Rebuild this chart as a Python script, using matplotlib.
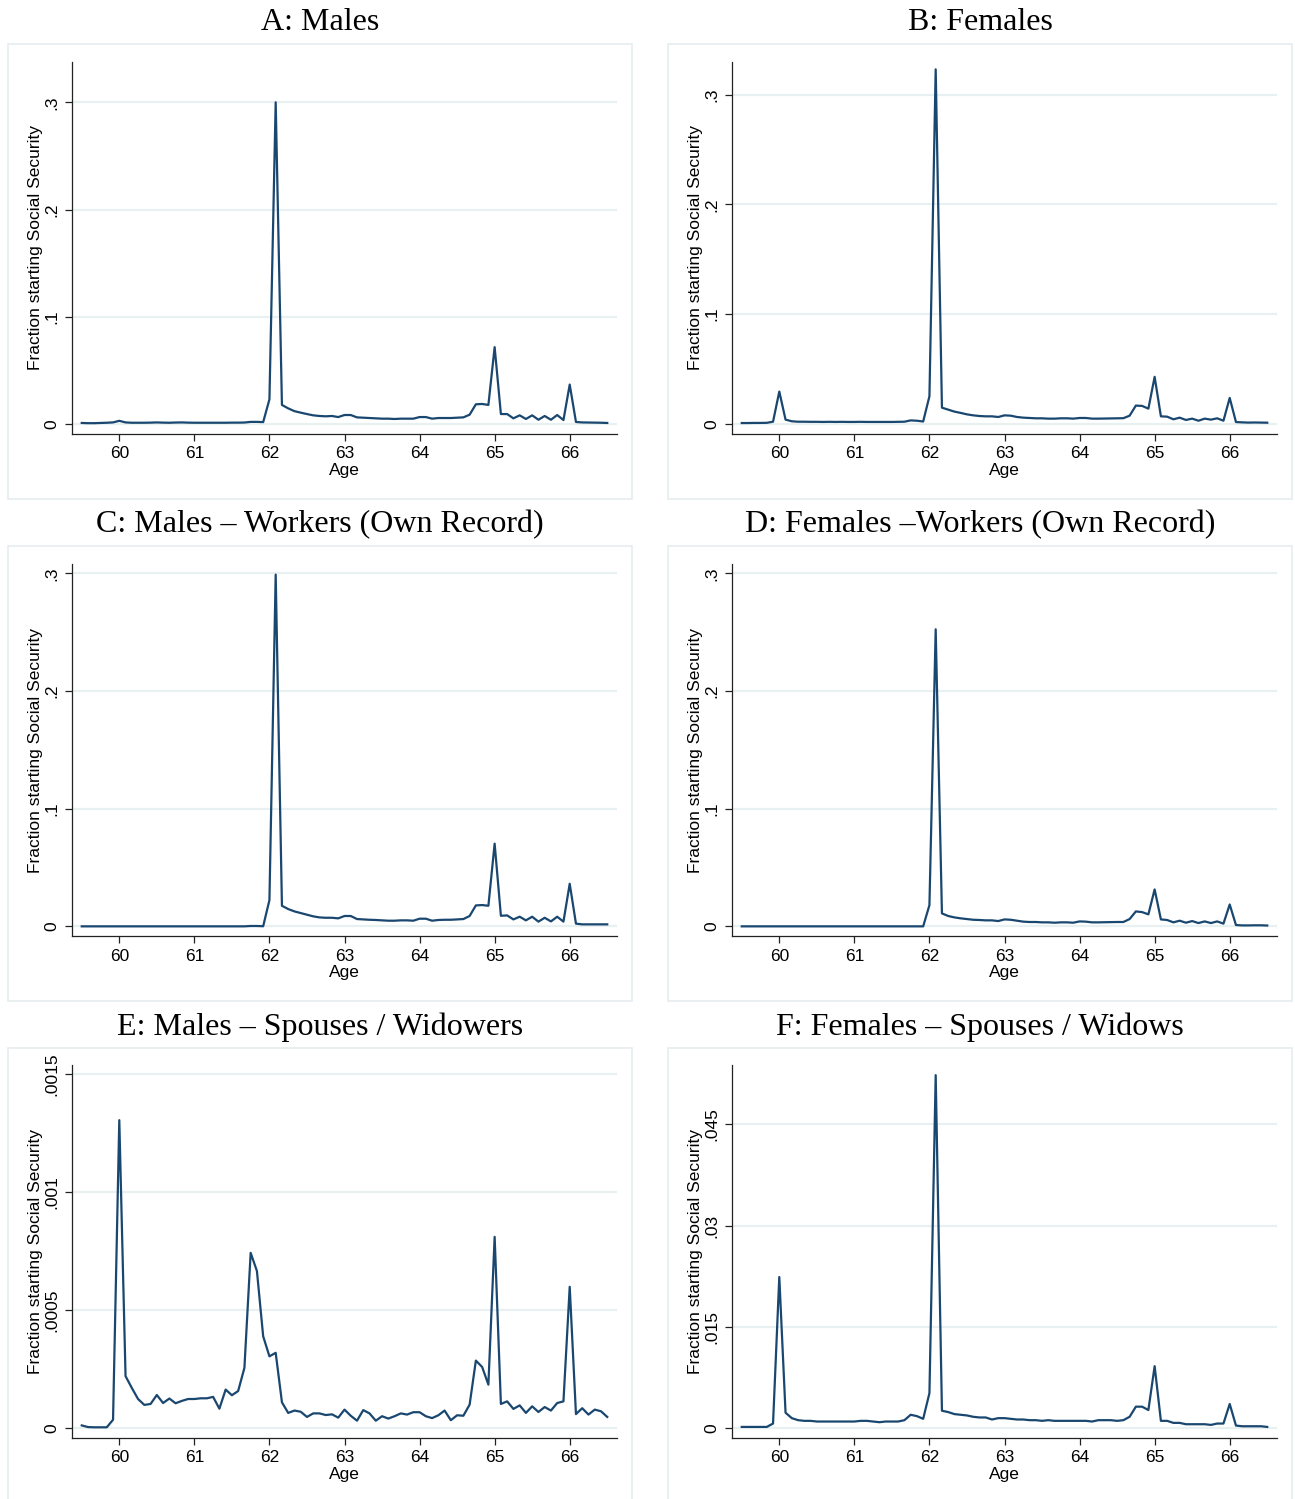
import numpy as np
import matplotlib
matplotlib.use("Agg")
import matplotlib.pyplot as plt
from matplotlib.patches import Rectangle

# age in months, 59y6m .. 66y6m
age_months = np.arange(59 * 12 + 6, 66 * 12 + 7)
ages = age_months / 12.0

males = [0.001, 0.0008, 0.0008, 0.001, 0.0012, 0.0015, 0.003,
         0.0015, 0.0012, 0.0012, 0.0012, 0.0013, 0.0015, 0.0013, 0.0012, 0.0014, 0.0015, 0.0013, 0.0012,
         0.0012, 0.0012, 0.0012, 0.0012, 0.0012, 0.0013, 0.0013, 0.0014, 0.002, 0.002, 0.0018,
         0.023, 0.30, 0.0178, 0.0146, 0.012, 0.0106, 0.0093, 0.0081, 0.0075, 0.0072, 0.0075, 0.0065,
         0.0084, 0.0084, 0.0062, 0.0059, 0.0056, 0.0053, 0.005, 0.005, 0.0047, 0.005, 0.005, 0.005,
         0.0065, 0.0065, 0.005, 0.0056, 0.0056, 0.0056, 0.0059, 0.0062, 0.0087, 0.0184, 0.0187, 0.0178,
         0.0717, 0.0093, 0.0093, 0.0053, 0.0081, 0.0047, 0.0081, 0.004, 0.0075, 0.004, 0.0084, 0.0037,
         0.0368, 0.0019, 0.0015, 0.0014, 0.0013, 0.0012, 0.001]

females = [0.0006, 0.0006, 0.0007, 0.0007, 0.0008, 0.0018, 0.0293,
           0.0037, 0.0022, 0.0018, 0.0018, 0.0017, 0.0017, 0.0016, 0.0017, 0.0016, 0.0017, 0.0016, 0.0016,
           0.0017, 0.0016, 0.0016, 0.0016, 0.0016, 0.0016, 0.0017, 0.0018, 0.003, 0.0027, 0.002,
           0.025, 0.323, 0.0146, 0.0128, 0.011, 0.0098, 0.0085, 0.0076, 0.007, 0.0067, 0.0067, 0.0061,
           0.0076, 0.0073, 0.0061, 0.0055, 0.0052, 0.0049, 0.0049, 0.0046, 0.0046, 0.0049, 0.0049, 0.0046,
           0.0052, 0.0052, 0.0046, 0.0046, 0.0047, 0.0048, 0.0049, 0.005, 0.0073, 0.0165, 0.0162, 0.0137,
           0.0427, 0.0067, 0.0064, 0.004, 0.0055, 0.0034, 0.0046, 0.0027, 0.0046, 0.0037, 0.0049, 0.0027,
           0.0235, 0.0015, 0.0012, 0.001, 0.0011, 0.001, 0.0009]

males_workers = [0.0] * 27 + [0.0003, 0.0003, 0.0001,
                 0.0223, 0.299, 0.0175, 0.0147, 0.0127, 0.0113, 0.0099, 0.0085, 0.0076, 0.0073, 0.0073, 0.0068,
                 0.0088, 0.0088, 0.0062, 0.0059, 0.0056, 0.0054, 0.0051, 0.0048, 0.0048, 0.0051, 0.0051, 0.0048,
                 0.0065, 0.0065, 0.0048, 0.0054, 0.0056, 0.0056, 0.0059, 0.0062, 0.0088, 0.0178, 0.0181, 0.0175,
                 0.0703, 0.009, 0.0093, 0.0059, 0.0082, 0.0051, 0.0082, 0.004, 0.0073, 0.0042, 0.0082, 0.004,
                 0.0362, 0.0023, 0.0017, 0.0017, 0.0017, 0.0017, 0.0017]

females_workers = [0.0] * 30 + [
                   0.018, 0.2525, 0.011, 0.0088, 0.0076, 0.0068, 0.0062, 0.0056, 0.0054, 0.0051, 0.0051, 0.0045,
                   0.0059, 0.0056, 0.0048, 0.004, 0.0037, 0.0037, 0.0034, 0.0034, 0.0031, 0.0034, 0.0034, 0.0031,
                   0.0042, 0.004, 0.0034, 0.0034, 0.0035, 0.0036, 0.0037, 0.0037, 0.0062, 0.0127, 0.0121, 0.0102,
                   0.0314, 0.0059, 0.0054, 0.0034, 0.0048, 0.0031, 0.0045, 0.0028, 0.0042, 0.0028, 0.0042, 0.0023,
                   0.0186, 0.0011, 0.0008, 0.0008, 0.0009, 0.0009, 0.0007]

males_spouses = [0.000011, 0.000004, 0.000003, 0.000003, 0.000003, 0.000035, 0.001306,
                 0.00022, 0.00017, 0.000123, 0.000098, 0.000102, 0.00014, 0.000106, 0.000125, 0.000105,
                 0.000115, 0.000123, 0.000123, 0.000126, 0.000126, 0.000132, 0.000082, 0.000163, 0.000139,
                 0.000157, 0.000255, 0.000743, 0.000666, 0.000389, 0.000304, 0.000319,
                 0.000109, 0.000064, 0.000074, 0.000069, 0.000047, 0.000062, 0.000062, 0.000055, 0.000058, 0.000044,
                 0.000078, 0.000052, 0.000031, 0.000076, 0.000062, 0.000031, 0.00005, 0.00004, 0.00005, 0.000062,
                 0.000057, 0.000067, 0.000067, 0.00005, 0.000042, 0.000054, 0.000074, 0.000033, 0.000054, 0.000052,
                 0.000099, 0.000286, 0.000259, 0.000184, 0.000811,
                 0.000102, 0.000113, 0.000081, 0.000096, 0.000064, 0.000092, 0.000068, 0.000089, 0.000074,
                 0.000106, 0.000113, 0.000599,
                 0.000059, 0.000084, 0.000057, 0.000078, 0.000071, 0.000047]

females_spouses = [0.0002, 0.0002, 0.0002, 0.0002, 0.0002, 0.0007, 0.0224,
                   0.0023, 0.0015, 0.0012, 0.0011, 0.0011, 0.001, 0.001, 0.001, 0.001, 0.001, 0.001, 0.001,
                   0.0011, 0.0011, 0.001, 0.0009, 0.001, 0.001, 0.001, 0.0012, 0.002, 0.0018, 0.0014,
                   0.0052, 0.0523, 0.0026, 0.0024, 0.0021, 0.002, 0.0019, 0.0017, 0.0016, 0.0016, 0.0013, 0.0015,
                   0.0015, 0.0014, 0.0013, 0.0013, 0.0012, 0.0012, 0.0011, 0.0012, 0.0011, 0.0011, 0.0011, 0.0011,
                   0.0011, 0.0011, 0.001, 0.0012, 0.0012, 0.0012, 0.0011, 0.0012, 0.0017, 0.0032, 0.0032, 0.0027,
                   0.0092, 0.0011, 0.0011, 0.0008, 0.0008, 0.0006, 0.0006, 0.0006, 0.0006, 0.0005, 0.0007, 0.0007,
                   0.0036, 0.0004, 0.0003, 0.0003, 0.0003, 0.0003, 0.0002]

titles = ["A: Males", "B: Females",
          "C: Males \u2013 Workers (Own Record)", "D: Females \u2013Workers (Own Record)",
          "E: Males \u2013 Spouses / Widowers", "F: Females \u2013 Spouses / Widows"]
series = [males, females, males_workers, females_workers, males_spouses, females_spouses]

ytick_vals = [[0, 0.1, 0.2, 0.3]] * 4 + [[0, 0.0005, 0.001, 0.0015], [0, 0.015, 0.03, 0.045]]
ytick_labels = [["0", ".1", ".2", ".3"]] * 4 + [["0", ".0005", ".001", ".0015"], ["0", ".015", ".03", ".045"]]
xticks = [60, 61, 62, 63, 64, 65, 66]

W, H = 1295, 1499
# axes boxes in pixels: left, top, right, bottom
boxes = [(72, 62, 617, 434), (732, 62, 1277, 434),
         (72, 564, 617, 936), (732, 564, 1277, 936),
         (72, 1065, 617, 1438), (732, 1065, 1277, 1438)]
ylims = [(-0.0093, 0.3376), (-0.0094, 0.3297), (-0.0082, 0.308), (-0.0082, 0.308),
         (-0.0000424, 0.00154), (-0.00144, 0.0538)]
panel_boxes = [(8, 44, 632, 499), (668, 44, 1292, 499),
               (8, 546, 632, 1001), (668, 546, 1292, 1001),
               (8, 1048, 632, 1510), (668, 1048, 1292, 1510)]
title_y = [23, 23, 525, 525, 1027, 1027]

line_color = "#1a476f"
grid_color = "#e8f0f2"
axis_color = "#222222"
fs = 12.5

fig = plt.figure(figsize=(W / 100, H / 100), dpi=100)
fig.patch.set_facecolor("white")

for i in range(6):
    px0, py0, px1, py1 = panel_boxes[i]
    fig.add_artist(Rectangle((px0 / W, 1 - py1 / H), (px1 - px0) / W, (py1 - py0) / H,
                             transform=fig.transFigure, fill=False, ec="#e6eef0", lw=1.2))
    fig.text((px0 + px1) / 2 / W, 1 - title_y[i] / H, titles[i], ha="center", va="center",
             fontsize=23, family="Liberation Serif")

    l, t, r, b = boxes[i]
    ax = fig.add_axes([l / W, 1 - b / H, (r - l) / W, (b - t) / H])
    for yv in ytick_vals[i]:
        ax.axhline(yv, color=grid_color, lw=1.6, zorder=0)
    ax.plot(ages, series[i], color=line_color, lw=1.6, zorder=3)
    ax.set_xlim(59.37, 66.63)
    ax.set_ylim(*ylims[i])
    ax.set_xticks(xticks)
    ax.set_xticklabels([str(x) for x in xticks], fontsize=fs, family="Liberation Sans")
    ax.set_yticks(ytick_vals[i])
    ax.set_yticklabels(ytick_labels[i], rotation=90, va="center", fontsize=fs,
                       family="Liberation Sans")
    ax.tick_params(axis="both", length=5, width=0.9, color=axis_color, pad=4)
    for s in ["top", "right"]:
        ax.spines[s].set_visible(False)
    for s in ["left", "bottom"]:
        ax.spines[s].set_color(axis_color)
        ax.spines[s].set_linewidth(0.9)
    ax.set_xlabel("Age", fontsize=fs, family="Liberation Sans")
    ax.set_ylabel("Fraction starting Social Security", fontsize=fs, family="Liberation Sans")
    ax.xaxis.set_label_coords(0.5, -0.077)
    ax.yaxis.set_label_coords(-0.054, 0.5)

fig.savefig("out.png", dpi=100)
